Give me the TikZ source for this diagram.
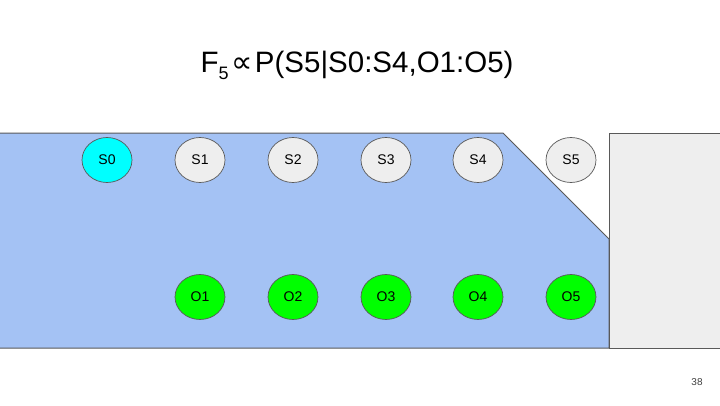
\documentclass[tikz,border=0pt]{standalone}
\usepackage{fontspec}
\setmainfont{Liberation Sans}
\newfontfamily\symfont{DejaVu Sans}
\usetikzlibrary{shapes.geometric}
\definecolor{bluebg}{HTML}{A4C2F4}
\definecolor{lightg}{HTML}{EEEEEE}
\definecolor{edgeg}{HTML}{595959}
\definecolor{cyanf}{HTML}{00FFFF}
\definecolor{greenf}{HTML}{00FF00}
\tikzset{
  var/.style={ellipse, draw=edgeg, line width=0.7pt, minimum width=50pt, minimum height=45pt, inner sep=0pt, font=\fontsize{14}{16}\selectfont},
  svar/.style={var, fill=lightg},
  ovar/.style={var, fill=greenf},
  zvar/.style={var, fill=cyanf},
}
\begin{document}
\begin{tikzpicture}[x=1pt,y=-1pt]
\useasboundingbox (0,0) rectangle (720,405);
\fill[white] (0,0) rectangle (720,405);
% blue region
\fill[bluebg] (0,133) -- (503,133) -- (609,239) -- (609,348) -- (0,348) -- cycle;
\draw[edgeg, line width=1pt] (0,133) -- (503,133) -- (609,239) -- (609,348) -- (0,348);
% gray region
\fill[lightg] (609,133) rectangle (720,348);
\draw[edgeg, line width=1pt] (720,133) -- (609,133) -- (609,348) -- (720,348);
% title
\node[font=\fontsize{29.5}{34}\selectfont, anchor=base] (title) at (357,72) {F\raisebox{-0.25em}{\fontsize{18}{20}\selectfont 5}\hspace{3pt}{\symfont\fontsize{30}{34}\selectfont ∝}\hspace{2pt}P(S5|S0:S4,O1:O5)};
% nodes
\node[zvar] (s0) at (107,160) {S0};
\node[svar] (s1) at (200,160) {S1};
\node[svar] (s2) at (293,160) {S2};
\node[svar] (s3) at (386,160) {S3};
\node[svar] (s4) at (478,160) {S4};
\node[svar] (s5) at (571,160) {S5};
\node[ovar] (o1) at (200,297) {O1};
\node[ovar] (o2) at (293,297) {O2};
\node[ovar] (o3) at (386,297) {O3};
\node[ovar] (o4) at (478,297) {O4};
\node[ovar] (o5) at (571,297) {O5};
% page number
\node[font=\fontsize{10}{12}\selectfont, text=black!75] (pg) at (697,382) {38};
\end{tikzpicture}
\end{document}
